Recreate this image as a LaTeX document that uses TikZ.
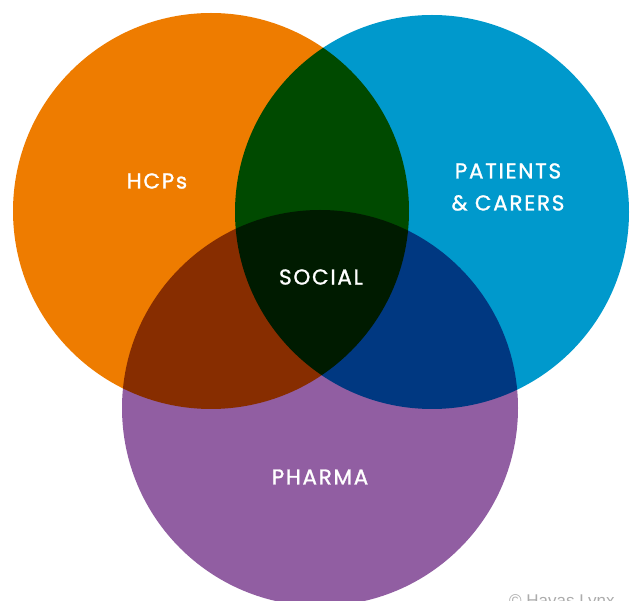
\documentclass[tikz,border=0pt]{standalone}
\usepackage{fontspec}
\setmainfont{Poppins}
\newfontfamily\labelfont{Poppins}[FakeBold=1.2,LetterSpace=8]
\newfontfamily\notefont{Liberation Sans}
\definecolor{hcporange}{RGB}{238,124,0}
\definecolor{patblue}{RGB}{0,153,204}
\definecolor{pharmapurple}{RGB}{145,94,162}
\tikzset{
  setlabel/.style={text=white,font=\labelfont\fontsize{21.5}{32}\selectfont,align=center},
}
\begin{document}
\begin{tikzpicture}[x=1pt,y=-1pt]
  \useasboundingbox (0,0) rectangle (630,601);
  \clip (0,0) rectangle (630,601);
  % the three sets, multiplied where they overlap
  \begin{scope}[blend group=multiply]
    \fill[hcporange] (211,211) circle [radius=198];
    \fill[patblue] (432,212) circle [radius=197];
    \fill[pharmapurple] (320,408) circle [radius=198];
  \end{scope}
  \node[setlabel] (hcps) at (157,181) {HCPs};
  \node[setlabel] (patients) at (508,187) {PATIENTS\\\& CARERS};
  \node[setlabel] (social) at (321,277) {SOCIAL};
  \node[setlabel] (pharma) at (320,477) {PHARMA};
  \node[anchor=base west,inner sep=0pt,text=gray!65,font=\notefont\fontsize{17}{20}\selectfont]
    (credit) at (509,607) {\textcopyright{} Havas Lynx};
\end{tikzpicture}
\end{document}
